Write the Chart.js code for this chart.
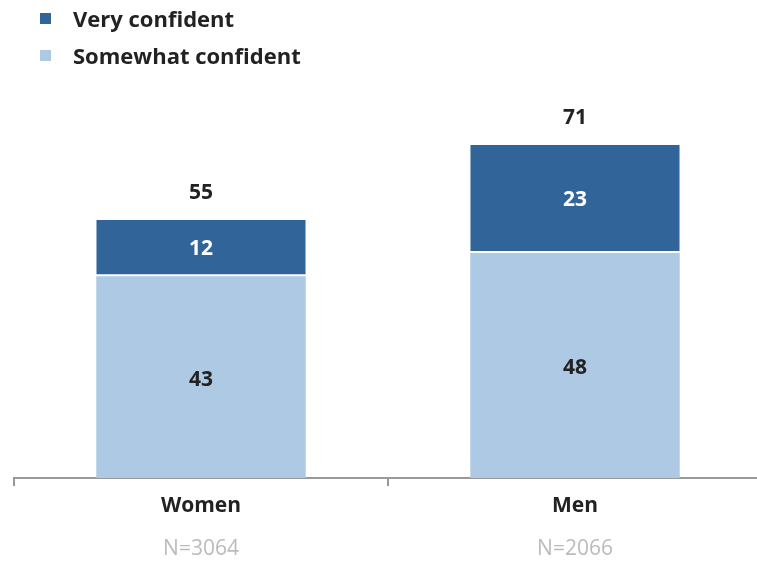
<!DOCTYPE html>
<html>
<head>
<meta charset="utf-8">
<script src="https://cdn.jsdelivr.net/npm/chart.js@4.4.0/dist/chart.umd.min.js"></script>
<style>
  html, body { margin: 0; padding: 0; background: #fff; overflow: hidden; }
  #wrap { position: relative; width: 762px; height: 561px; }
  #chart { position: absolute; left: 0; top: 0; }
  .legend { position: absolute; left: 40px; font: bold 22px "Open Sans", sans-serif; color: #222; }
  .legend span { display: inline-block; width: 11px; height: 11px; margin-right: 22px; vertical-align: 3px; }
</style>
</head>
<body>
<div id="wrap">
  <canvas id="chart" width="762" height="561"></canvas>
  <div class="legend" style="top:3px"><span style="background:#31659A"></span>Very confident</div>
  <div class="legend" style="top:40px"><span style="background:#ADC9E3"></span>Somewhat confident</div>
</div>
<script>
(function() {
    'use strict';

    var categories = ['Women', 'Men'];
    var sampleSizes = ['N=3064', 'N=2066'];
    var somewhatConfident = [43, 48];
    var veryConfident = [12, 23];
    var totals = [55, 71];

    var darkBlue = '#31659A';
    var lightBlue = '#ADC9E3';
    var textColor = '#222';
    var fontFamily = '"Open Sans", sans-serif';

    // Segment values, totals and N labels.
    var labelPlugin = {
        id: 'labels',
        afterDatasetsDraw: function(chart) {
            var ctx = chart.ctx;
            ctx.save();
            ctx.textAlign = 'center';
            ctx.textBaseline = 'middle';
            ctx.font = 'bold 21px ' + fontFamily;
            chart.data.datasets.forEach(function(ds, di) {
                chart.getDatasetMeta(di).data.forEach(function(bar, i) {
                    ctx.fillStyle = di === 1 ? '#fff' : textColor;
                    var shift = di === 0 ? 3 : 1;
                    ctx.fillText(ds.data[i], bar.x, (bar.y + bar.base) / 2 + shift);
                });
            });
            var top = chart.getDatasetMeta(1).data;
            ctx.fillStyle = textColor;
            top.forEach(function(bar, i) {
                ctx.fillText(totals[i], bar.x, bar.y - 27);
            });
            var xs = chart.scales.x;
            ctx.font = '21px ' + fontFamily;
            ctx.fillStyle = '#BBBBBB';
            sampleSizes.forEach(function(n, i) {
                ctx.fillText(n, xs.getPixelForValue(i), 549);
            });
            ctx.restore();
        }
    };

    new Chart(document.getElementById('chart').getContext('2d'), {
        type: 'bar',
        data: {
            labels: categories,
            datasets: [{
                label: 'Somewhat confident',
                data: somewhatConfident,
                backgroundColor: lightBlue,
                borderWidth: 0,
                barPercentage: 0.56,
                categoryPercentage: 1
            }, {
                label: 'Very confident',
                data: veryConfident,
                backgroundColor: darkBlue,
                borderColor: '#fff',
                borderWidth: { top: 0, left: 0, right: 0, bottom: 2 },
                borderSkipped: false,
                barPercentage: 0.56,
                categoryPercentage: 1
            }]
        },
        options: {
            responsive: false,
            animation: false,
            layout: { padding: { left: 14, top: 9, right: 0, bottom: 0 } },
            plugins: {
                legend: { display: false },
                tooltip: { enabled: false }
            },
            scales: {
                x: {
                    stacked: true,
                    afterFit: function(scale) { scale.height = 83; },
                    border: { display: true, color: '#999', width: 2 },
                    grid: {
                        offset: true,
                        drawOnChartArea: false,
                        drawTicks: true,
                        tickLength: 8,
                        color: '#999',
                        lineWidth: 2
                    },
                    ticks: {
                        color: textColor,
                        font: { family: fontFamily, size: 21, weight: 'bold' },
                        padding: 7
                    }
                },
                y: {
                    stacked: true,
                    display: false,
                    min: 0,
                    max: 100
                }
            }
        },
        plugins: [labelPlugin]
    });
})();
</script>
</body>
</html>
